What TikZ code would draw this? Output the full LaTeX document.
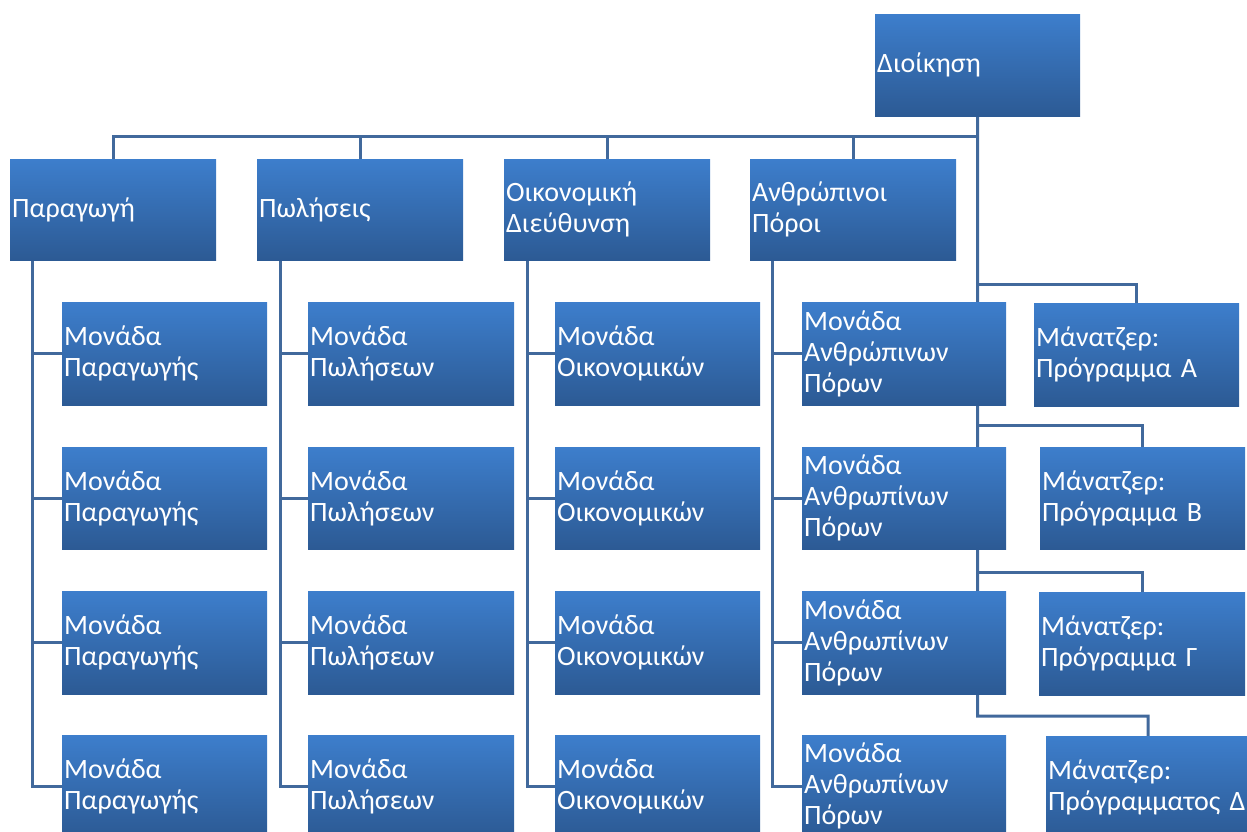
\documentclass[tikz,border=0pt]{standalone}
\usepackage{fontspec}
\setmainfont{Carlito}
\usetikzlibrary{calc}
\definecolor{boxtop}{HTML}{3D7ECC}
\definecolor{boxbot}{HTML}{2C5A94}
\definecolor{linec}{HTML}{41699C}
\pgfdeclarelayer{background}
\pgfsetlayers{background,main}
\tikzset{
  box/.style={rectangle, top color=boxtop, bottom color=boxbot, draw=none,
    text=white, align=left, inner xsep=2pt, inner ysep=0pt,
    font=\fontsize{28}{31}\selectfont, anchor=north west},
  conn/.style={draw=linec, line width=3pt}
}
\newcommand\bx[6]{%
  \pgfmathsetmacro\bw{#4-#2}\pgfmathsetmacro\bh{#5-#3}\pgfmathsetmacro\tw{#4-#2-4}%
  \node[box, minimum width=\bw pt, minimum height=\bh pt, text width=\tw pt] (#1) at (#2,#3) {#6};}
\begin{document}
\begin{tikzpicture}[x=1pt,y=-1pt]
\useasboundingbox (0,0) rectangle (1247,831);
\clip (0,0) rectangle (1247,831);
% top
\bx{dio}{875}{14}{1080}{116}{Διοίκηση}
% level 2
\bx{pa}{10}{159}{216}{260}{Παραγωγή}
\bx{po}{257}{159}{463}{260}{Πωλήσεις}
\bx{oi}{504}{159}{710}{260}{Οικονομική\\Διεύθυνση}
\bx{an}{750}{159}{956}{260}{Ανθρώπινοι\\Πόροι}
% column 1
\bx{pa1}{62}{302}{267}{405}{Μονάδα\\Παραγωγής}
\bx{pa2}{62}{447}{267}{549}{Μονάδα\\Παραγωγής}
\bx{pa3}{62}{591}{267}{694}{Μονάδα\\Παραγωγής}
\bx{pa4}{62}{735}{267}{837}{Μονάδα\\Παραγωγής}
% column 2
\bx{po1}{308}{302}{514}{405}{Μονάδα\\Πωλήσεων}
\bx{po2}{308}{447}{514}{549}{Μονάδα\\Πωλήσεων}
\bx{po3}{308}{591}{514}{694}{Μονάδα\\Πωλήσεων}
\bx{po4}{308}{735}{514}{837}{Μονάδα\\Πωλήσεων}
% column 3
\bx{oi1}{555}{302}{760}{405}{Μονάδα\\Οικονομικών}
\bx{oi2}{555}{447}{760}{549}{Μονάδα\\Οικονομικών}
\bx{oi3}{555}{591}{760}{694}{Μονάδα\\Οικονομικών}
\bx{oi4}{555}{735}{760}{837}{Μονάδα\\Οικονομικών}
% column 4
\bx{an1}{802}{302}{1006}{405}{Μονάδα\\Ανθρώπινων\\Πόρων}
\bx{an2}{802}{447}{1006}{549}{Μονάδα\\Ανθρωπίνων\\Πόρων}
\bx{an3}{802}{591}{1006}{694}{Μονάδα\\Ανθρωπίνων\\Πόρων}
\bx{an4}{802}{735}{1006}{837}{Μονάδα\\Ανθρωπίνων\\Πόρων}
% managers
\bx{mA}{1034}{303}{1239}{406}{Μάνατζερ:\\Πρόγραμμα Α}
\bx{mB}{1040}{447}{1245}{549}{Μάνατζερ:\\Πρόγραμμα Β}
\bx{mG}{1039}{592}{1245}{695}{Μάνατζερ:\\Πρόγραμμα Γ}
\bx{mD}{1046}{736}{1250}{838}{Μάνατζερ:\\\mbox{Πρόγραμματος Δ}}
% connector coordinates
\coordinate (bus) at (977.5,136);
\coordinate (c1) at (32,260);
\coordinate (c2) at (280,260);
\coordinate (c3) at (527,260);
\coordinate (c4) at (772,260);
\coordinate (bA) at (977.5,284);
\coordinate (bB) at (977.5,425);
\coordinate (bG) at (977.5,572);
\coordinate (bD) at (977.5,716);
\begin{pgfonlayer}{background}
  \draw[conn] (dio.south) -- (bD) -| (mD.north);
  \draw[conn] (pa.north) |- (bus);
  \draw[conn] (po.north) -- (po.north |- bus);
  \draw[conn] (oi.north) -- (oi.north |- bus);
  \draw[conn] (an.north) -- (an.north |- bus);
  \draw[conn] (bA) -| (mA.north);
  \draw[conn] (bB) -| (mB.north);
  \draw[conn] (bG) -| (mG.north);
  \draw[conn] (c1) |- (pa4.west);
  \draw[conn] (c2) |- (po4.west);
  \draw[conn] (c3) |- (oi4.west);
  \draw[conn] (c4) |- (an4.west);
  \foreach \n in {1,2,3}{
    \draw[conn] (pa\n.west) -- (pa\n.west -| c1);
    \draw[conn] (po\n.west) -- (po\n.west -| c2);
    \draw[conn] (oi\n.west) -- (oi\n.west -| c3);
    \draw[conn] (an\n.west) -- (an\n.west -| c4);
  }
\end{pgfonlayer}
\end{tikzpicture}
\end{document}
